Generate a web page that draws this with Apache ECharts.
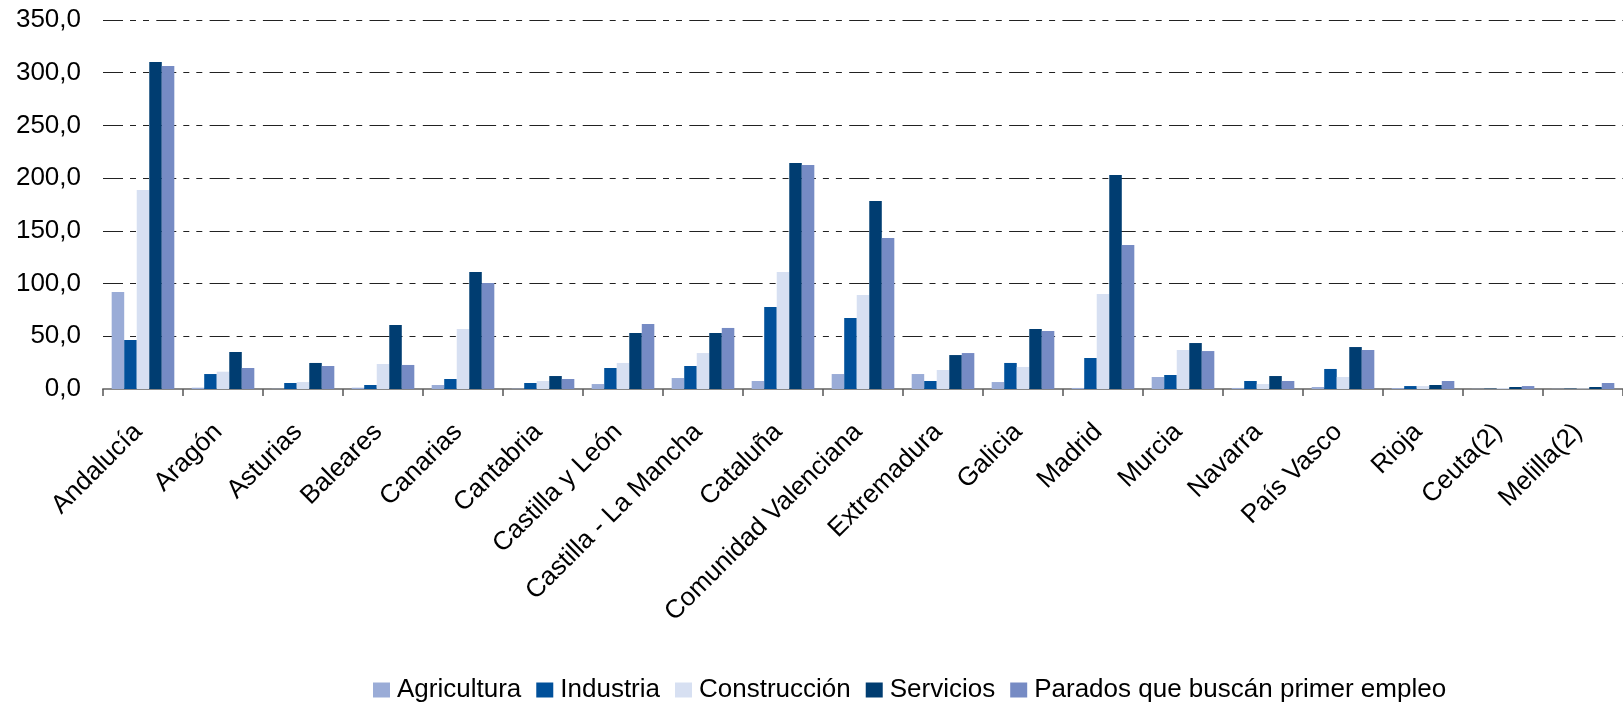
<!DOCTYPE html>
<html>
<head>
<meta charset="utf-8">
<script src="https://cdn.jsdelivr.net/npm/echarts@6/dist/echarts.min.js"></script>
<style>
  html, body { margin: 0; padding: 0; background: #fff; }
  #chart { width: 1623px; height: 705px; }
</style>
</head>
<body>
<div id="chart"></div>
<script>
const categories = ['Andalucía','Aragón','Asturias','Baleares','Canarias','Cantabria','Castilla y León','Castilla - La Mancha','Cataluña','Comunidad Valenciana','Extremadura','Galicia','Madrid','Murcia','Navarra','País Vasco','Rioja','Ceuta(2)','Melilla(2)'];
const agricultura  = [92.0, 1.2, 0.2, 1.2, 3.8, 0.3, 4.7, 10.4, 7.6, 14.2, 14.2, 6.6, 1.0, 11.4, 1.0, 1.9, 0.9, 0.2, 0.2];
const industria    = [46.5, 14.2, 5.7, 3.8, 9.5, 5.7, 19.9, 21.8, 77.8, 67.3, 7.6, 24.7, 29.4, 13.3, 7.6, 19.0, 2.8, 0.3, 0.3];
const construccion = [188.8, 16.4, 6.6, 23.7, 56.9, 7.6, 24.7, 34.1, 111.0, 89.2, 18.0, 20.9, 90.1, 37.0, 4.7, 11.4, 2.8, 0.9, 0.5];
const servicios    = [310.2, 35.1, 24.7, 60.7, 111.0, 12.3, 53.1, 53.1, 214.4, 178.3, 32.2, 56.9, 203.0, 43.6, 12.3, 39.8, 3.8, 1.9, 1.9];
const parados      = [306.4, 19.9, 21.8, 22.8, 100.5, 9.5, 61.7, 57.9, 212.5, 143.2, 34.1, 55.0, 136.6, 36.0, 7.6, 37.0, 7.6, 2.8, 5.7];
const seriesNames = ['Agricultura','Industria','Construcción','Servicios','Parados que buscán primer empleo'];
const seriesColors = ['#9AACD7','#00509A','#D7E0F2','#003D71','#768BC4'];
const seriesData = [agricultura, industria, construccion, servicios, parados];

const FONT = '"Liberation Sans", Arial, sans-serif';
const chart = echarts.init(document.getElementById('chart'), null, { renderer: 'canvas' });
chart.setOption({
  animation: false,
  backgroundColor: '#ffffff',
  textStyle: { fontFamily: FONT, color: '#000' },
  grid: { left: 103, right: -7, top: 20, bottom: 316, containLabel: false },
  legend: {
    data: seriesNames,
    left: 368,
    top: 671,
    itemWidth: 17,
    itemHeight: 15,
    itemGap: 15,
    icon: 'rect',
    textStyle: { fontFamily: FONT, fontSize: 26, lineHeight: 28, color: '#000', padding: [0, 0, 0, 2] }
  },
  xAxis: {
    type: 'category',
    data: categories,
    axisLine: { lineStyle: { color: '#888', width: 2 } },
    axisTick: { show: true, length: 7, lineStyle: { color: '#555', width: 1.5 } },
    axisLabel: { rotate: 45, interval: 0, fontSize: 26, color: '#000', fontFamily: FONT, margin: 34, padding: [0, 7, 0, 0] }
  },
  yAxis: {
    type: 'value',
    min: 0, max: 350, interval: 50,
    axisLine: { show: false },
    axisTick: { show: false },
    axisLabel: {
      fontSize: 26, color: '#000', fontFamily: FONT, margin: 22,
      formatter: v => v.toFixed(1).replace('.', ',')
    },
    splitLine: { lineStyle: { color: '#222', width: 1.2, type: [20, 7, 6, 7, 6, 7.3] } }
  },
  series: seriesNames.map((n, i) => ({
    name: n,
    type: 'bar',
    data: seriesData[i],
    itemStyle: { color: seriesColors[i] },
    barGap: '0%',
    barCategoryGap: '21.7%'
  }))
});
</script>
</body>
</html>
